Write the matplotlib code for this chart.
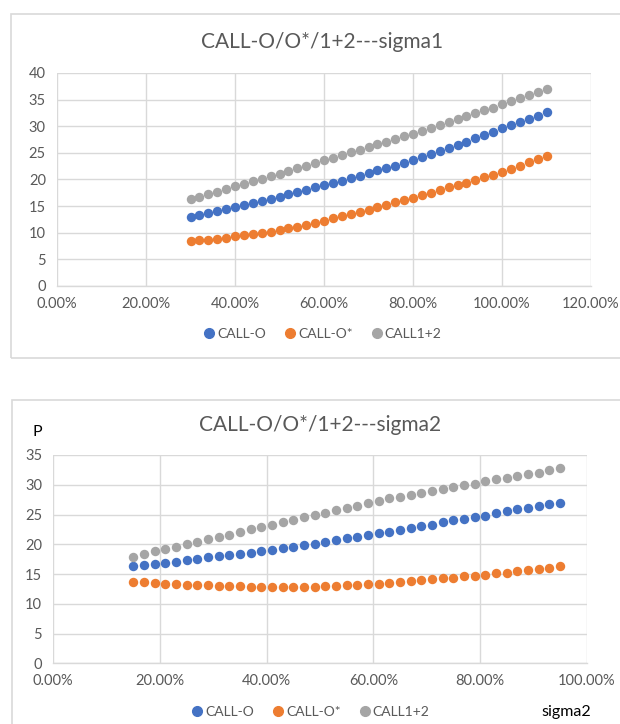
import matplotlib
matplotlib.use("Agg")
import matplotlib.pyplot as plt
from matplotlib.patches import Rectangle
from matplotlib.lines import Line2D
from matplotlib.ticker import FuncFormatter, MultipleLocator

plt.rcParams['font.family'] = ['Lato', 'DejaVu Sans']

# ---------------- data ----------------
series_names = ["CALL-O", "CALL-O*", "CALL1+2"]
colors = ["#4472C4", "#ED7D31", "#A5A5A5"]

# chart 1: x = sigma1 (percent)
sigma1 = [30, 32, 34, 36, 38, 40, 42, 44, 46, 48, 50, 52, 54, 56, 58, 60,
          62, 64, 66, 68, 70, 72, 74, 76, 78, 80, 82, 84, 86, 88, 90, 92,
          94, 96, 98, 100, 102, 104, 106, 108, 110]
call_o_1 = [13.0, 13.3, 13.7, 14.1, 14.4, 14.8, 15.2, 15.6, 16.0, 16.4, 16.8,
            17.2, 17.6, 18.0, 18.5, 18.9, 19.4, 19.8, 20.3, 20.7, 21.2, 21.7,
            22.1, 22.6, 23.1, 23.6, 24.2, 24.7, 25.3, 25.9, 26.5, 27.1, 27.7,
            28.3, 29.0, 29.6, 30.2, 30.8, 31.4, 32.0, 32.6]
call_os_1 = [8.5, 8.6, 8.7, 8.9, 9.1, 9.3, 9.5, 9.7, 10.0, 10.2, 10.5, 10.8,
             11.1, 11.5, 11.9, 12.3, 12.7, 13.1, 13.5, 13.9, 14.3, 14.8, 15.2,
             15.7, 16.1, 16.6, 17.1, 17.5, 18.0, 18.5, 19.0, 19.4, 19.9, 20.4,
             20.9, 21.4, 22.0, 22.6, 23.2, 23.8, 24.4]
call_12_1 = [16.4, 16.8, 17.2, 17.7, 18.2, 18.8, 19.2, 19.7, 20.1, 20.6, 21.1,
             21.6, 22.1, 22.6, 23.1, 23.6, 24.1, 24.6, 25.1, 25.6, 26.1, 26.6,
             27.1, 27.6, 28.1, 28.6, 29.1, 29.7, 30.2, 30.8, 31.3, 31.9, 32.4,
             33.0, 33.5, 34.1, 34.7, 35.3, 35.8, 36.4, 37.0]

# chart 2: x = sigma2 (percent)
sigma2 = [15, 17, 19, 21, 23, 25, 27, 29, 31, 33, 35, 37, 39, 41, 43, 45,
          47, 49, 51, 53, 55, 57, 59, 61, 63, 65, 67, 69, 71, 73, 75, 77,
          79, 81, 83, 85, 87, 89, 91, 93, 95]
call_o_2 = [16.3, 16.5, 16.7, 16.9, 17.1, 17.3, 17.6, 17.8, 18.0, 18.2, 18.4,
            18.6, 18.9, 19.1, 19.35, 19.6, 19.85, 20.1, 20.4, 20.7, 21.0, 21.3,
            21.6, 21.9, 22.1, 22.4, 22.7, 23.0, 23.3, 23.7, 24.0, 24.2, 24.5,
            24.8, 25.3, 25.6, 25.9, 26.1, 26.4, 26.7, 27.0]
call_os_2 = [13.7, 13.6, 13.5, 13.4, 13.3, 13.2, 13.1, 13.1, 13.0, 13.0, 13.0,
             12.9, 12.85, 12.8, 12.8, 12.8, 12.85, 12.9, 12.95, 13.0, 13.1,
             13.2, 13.3, 13.4, 13.5, 13.6, 13.8, 14.0, 14.1, 14.3, 14.4, 14.6,
             14.75, 14.9, 15.1, 15.25, 15.5, 15.65, 15.9, 16.0, 16.3]
call_12_2 = [17.9, 18.4, 18.9, 19.2, 19.6, 20.0, 20.4, 20.9, 21.3, 21.6, 22.1,
             22.5, 22.9, 23.3, 23.7, 24.1, 24.5, 24.9, 25.3, 25.7, 26.1, 26.5,
             26.9, 27.3, 27.7, 28.0, 28.3, 28.6, 29.0, 29.3, 29.7, 29.9, 30.2,
             30.6, 30.9, 31.2, 31.4, 31.8, 32.0, 32.4, 32.8]

title1 = "CALL-O/O*/1+2---sigma1"
title2 = "CALL-O/O*/1+2---sigma2"

# ---------------- figure ----------------
W, H = 620, 724
fig = plt.figure(figsize=(W / 100, H / 100), dpi=100)
fig.patch.set_facecolor("white")

TXT = "#595959"
GRID = "#D9D9D9"


def fx(px):
    return px / W


def fy(py):
    return 1 - py / H


# chart frames
for (x0, y0, x1, y1) in [(10.5, 13.5, 640, 358), (11.5, 399.5, 640, 760)]:
    fig.patches.append(Rectangle((fx(x0), fy(y1)), fx(x1 - x0), (y1 - y0) / H,
                                 transform=fig.transFigure, fill=False,
                                 edgecolor="#D9D9D9", linewidth=1.2))


def style_axes(ax, xmax, ymax):
    ax.set_xlim(0, xmax)
    ax.set_ylim(0, ymax)
    ax.xaxis.set_major_locator(MultipleLocator(20))
    ax.yaxis.set_major_locator(MultipleLocator(5))
    ax.xaxis.set_major_formatter(FuncFormatter(lambda v, p: f"{v:.2f}%"))
    ax.grid(True, color=GRID, linewidth=1.0)
    ax.set_axisbelow(True)
    for s in ["top", "right", "left"]:
        ax.spines[s].set_visible(False)
    ax.spines["bottom"].set_color(GRID)
    ax.spines["bottom"].set_linewidth(1.0)
    ax.tick_params(length=0, labelsize=10.5, labelcolor=TXT)
    ax.tick_params(axis="x", pad=8)
    ax.tick_params(axis="y", pad=8)


def legend_handles():
    return [Line2D([], [], linestyle="none", marker="o", markersize=7,
                   markerfacecolor=c, markeredgecolor=c, label=n)
            for c, n in zip(colors, series_names)]


# ---- chart 1 ----
ax1 = fig.add_axes([fx(57), fy(286), fx(591 - 57), (286 - 73) / H])
for ys, c in zip([call_o_1, call_os_1, call_12_1], colors):
    ax1.plot(sigma1, ys, linestyle="none", marker="o", markersize=6.8,
             color=c, markeredgewidth=0)
style_axes(ax1, 120, 40)
fig.text(fx(322), fy(42), title1, ha="center", va="center", fontsize=15,
         color=TXT)
fig.legend(handles=legend_handles(), loc="center", ncol=3, frameon=False,
           bbox_to_anchor=(fx(322), fy(334)), fontsize=10, handletextpad=0.1,
           columnspacing=1.2, handlelength=1.0, labelcolor=TXT)

# ---- chart 2 ----
ax2 = fig.add_axes([fx(53.3), fy(663.3), fx(586.7 - 53.3), (663.3 - 455) / H])
for ys, c in zip([call_o_2, call_os_2, call_12_2], colors):
    ax2.plot(sigma2, ys, linestyle="none", marker="o", markersize=6.8,
             color=c, markeredgewidth=0)
style_axes(ax2, 100, 35)
fig.text(fx(320), fy(425), title2, ha="center", va="center", fontsize=15,
         color=TXT)
fig.text(fx(37), fy(432), "P", ha="center", va="center", fontsize=11.5,
         color="black")
fig.text(fx(566), fy(712), "sigma2", ha="center", va="center", fontsize=11.5,
         color="black")
fig.legend(handles=legend_handles(), loc="center", ncol=3, frameon=False,
           bbox_to_anchor=(fx(310), fy(712)), fontsize=10, handletextpad=0.1,
           columnspacing=1.2, handlelength=1.0, labelcolor=TXT)

fig.savefig("out.png", dpi=100, facecolor="white")
